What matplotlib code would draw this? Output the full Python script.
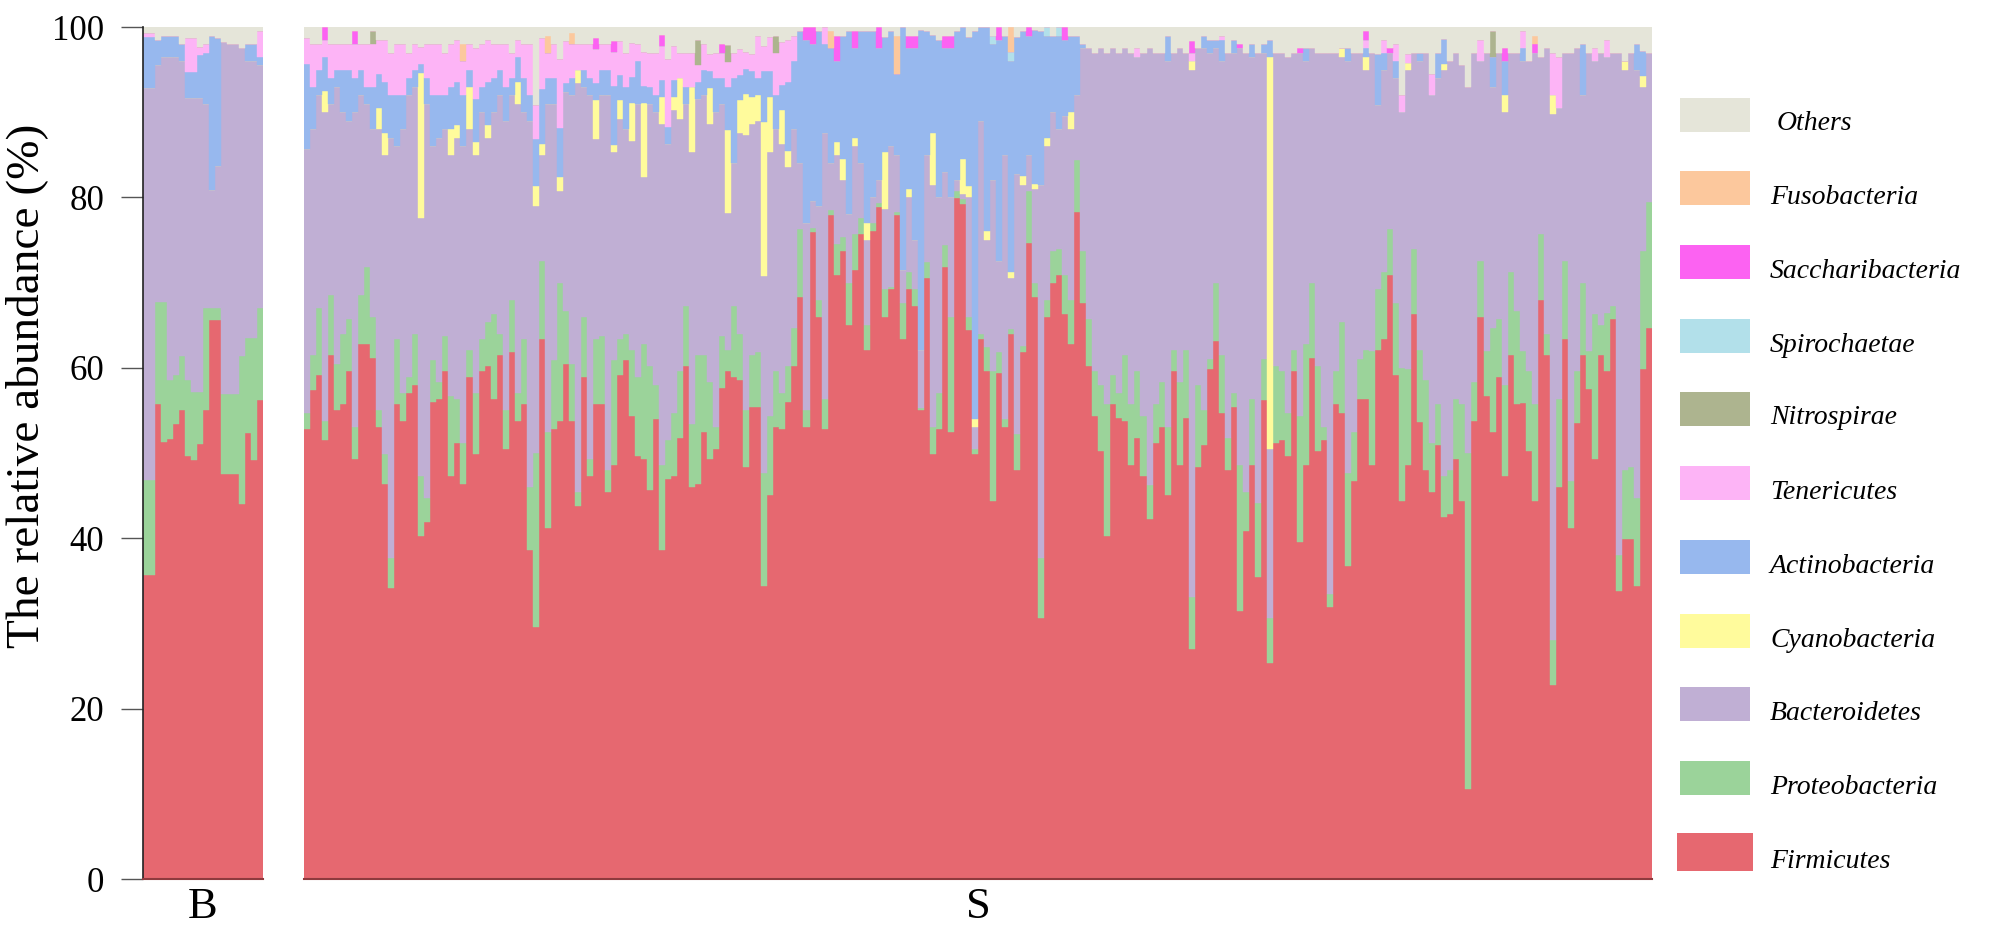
import numpy as np
import matplotlib
matplotlib.use("Agg")
import matplotlib.pyplot as plt
from matplotlib.patches import Rectangle

plt.rcParams['font.family'] = ['Liberation Serif', 'DejaVu Serif']

taxa = ['Firmicutes', 'Proteobacteria', 'Bacteroidetes', 'Cyanobacteria', 'Actinobacteria',
        'Tenericutes', 'Nitrospirae', 'Spirochaetae', 'Saccharibacteria', 'Fusobacteria', 'Others']
colors = ['#E66870', '#9BD39A', '#C0AFD4', '#FFFB9C', '#97B8EE',
          '#FDB4F6', '#ADB48F', '#B2E0EA', '#FC62F2', '#FCC89D', '#E5E5D9']
groups = ['B', 'S']

# ---------------- group B (20 samples) ----------------
B_firmicutes = [35.7, 35.7, 55.8, 51.3, 51.7, 53.4, 55.1, 49.6, 49.2, 51, 55.1, 65.6, 65.6, 47.5, 47.5, 47.5, 44, 52.4, 49.2, 56.2]
B_proteo = [11.1, 11.1, 11.9, 16.4, 6.9, 5.7, 6.3, 9.0, 8.0, 6.2, 11.9, 1.4, 1.4, 9.4, 9.4, 9.4, 17.4, 11.1, 14.3, 10.8]
B_bactero = [46, 46, 27.8, 28.8, 37.9, 37.4, 34.6, 33.1, 34.5, 34.5, 24, 13.9, 16.7, 41.3, 41.1, 41.1, 36.1, 32.5, 32.5, 28.5]
B_actino = [6, 6, 3, 2.5, 2.5, 2.5, 2, 3, 3, 5, 6, 18, 15, 0, 0, 0, 0, 2, 2, 1]
B_teneric = [0.5, 0.5, 0, 0, 0, 0, 0, 4, 4, 1, 1, 0, 0, 0, 0, 0, 0, 0, 0, 3]

# ---------------- group S (224 samples) ----------------
S_firmicutes = [
    52.8, 57.4, 59.2, 51.5, 61.5, 55, 55.7, 59.6, 49.3, 62.8, 62.8, 61.2, 53.1, 46.4, 34.1, 55.7, 53.8, 57, 58, 40.2,
    41.9, 56, 56.3, 59.6, 47.3, 51.2, 46.4, 58.9, 49.9, 59.6, 60.2, 56.3, 61.5, 50.5, 61.8, 53.8, 55.7, 38.6,
    29.6, 63.4, 41.2, 52.8, 53.8, 60.5, 53.8, 43.8, 58.9, 47.3, 55.7, 55.7, 45.4, 48.6, 59.2, 60.9, 54.4, 49.6, 49.3, 45.7,
    54, 38.6, 47, 47.3, 51.8, 60.2, 46, 46.4, 52.5, 49.3, 50.5, 57.6, 59.6, 58.9, 58.6, 48.3, 55.4,
    55.4, 34.4, 45.1, 53, 52.8, 56, 60.2, 68.3, 53.1, 76.3, 66, 53.1, 77.9, 70.9, 73.7, 65, 71.5, 75.7, 62.1, 76,
    78.9, 66, 69.2, 77.9, 63.4, 69.2, 67.3, 55, 70.5, 49.9, 52.8, 71.8, 52.5, 79.9, 79.5, 64.4, 49.9,
    63.4, 59.6, 44.4, 59.6, 53.1, 64.4, 48, 61.8, 74.7, 68.3, 30.6, 66, 69.9, 70.9, 66.7, 62.8, 78.3, 67.6, 60.2, 54.4,
    50.2, 40.2, 55.7, 54.1, 53.8, 48.6, 51.8, 47.3, 42.2, 51.2, 53.1, 45.1, 59.6, 48.6, 54.1, 27, 48.3,
    50.9, 59.9, 63.1, 54.7, 48, 55.4, 31.5, 40.9, 48.6, 35.4, 56.2, 25.4, 51.2, 51.5, 49.6, 59.6, 39.6, 48.6, 61.2, 50.2,
    51.5, 31.9, 55.7, 54.7, 36.7, 46.7, 56.3, 56.3, 48.6, 62.1, 63.4, 70.9, 59.2, 44.4, 48.6, 66.3, 53.6, 48,
    45.4, 50.9, 42.5, 42.8, 49.3, 44.4, 10.6, 53.8, 66, 56.7, 52.5, 58.9, 47.3, 61.5, 55.7, 55.9, 50.2, 44.4, 68, 61.5,
    22.8, 46, 63.4, 41.2, 53.5, 61.5, 57.5, 49.3, 61.5, 59.6, 65.7, 33.8, 39.9, 39.9, 34.4, 59.9, 64.7,
]
S_proteo = [
    1.9, 4.1, 7.8, 2.3, 7.1, 5.5, 8.3, 6.1, 3.8, 5.8, 9.0, 4.8, 1.9, 3.5, 3.6, 7.7, 3.2, 1.9, 6.0, 7.1,
    2.8, 4.9, 2.0, 4.1, 9.4, 5.1, 4.8, 3.2, 7.1, 3.8, 5.2, 10.0, 2.5, 4.5, 6.2, 3.2, 7.7, 7.4,
    20.4, 9.1, 11.3, 8.1, 16.1, 6.2, 6.7, 1.6, 7.1, 2.0, 7.7, 8.0, 2.6, 12.3, 4.2, 3.1, 7.7, 9.3, 13.5, 14.5,
    4.0, 10.0, 4.5, 7.4, 7.8, 7.1, 7.4, 15.1, 9.0, 9.0, 2.6, 6.1, 2.5, 8.4, 5.4, 6.7, 6.1,
    6.4, 13.2, 9.3, 6.6, 4.2, 4.2, 4.5, 8.0, 1.9, 0.5, 2.0, 3.5, 0.6, 3.6, 1.6, 4.9, 4.2, 1.9, 2.9, 1.0,
    0.5, 3.2, 0.3, 0.4, 4.2, 2.0, 1.9, 0.3, 1.9, 3.2, 4.2, 2.6, 13.5, 0.9, 0.5, 1.6, 0.6,
    0.6, 2.8, 15.2, 2.4, 0.9, 0.6, 4.2, 0.7, 6.1, 1.6, 7.1, 2.0, 3.8, 3.1, 4.5, 5.2, 6.1, 6.1, 5.5, 5.2,
    7.8, 15.5, 3.5, 2.9, 7.7, 7.1, 7.8, 7.1, 4.1, 4.5, 5.2, 8.0, 2.5, 9.7, 8.0, 6.1, 9.7,
    4.1, 1.1, 6.8, 6.8, 3.8, 1.6, 17.1, 4.5, 7.7, 8.7, 4.8, 5.2, 9.0, 8.1, 5.1, 2.5, 14.8, 14.2, 8.7, 10.0,
    1.6, 1.6, 3.9, 10.7, 10.9, 5.8, 4.7, 5.8, 13.4, 7.1, 7.8, 5.4, 8.4, 15.6, 11.3, 7.7, 8.5, 10.6,
    5.8, 4.8, 4.8, 5.2, 7.0, 11.3, 39.4, 4.5, 6.5, 5.3, 12.2, 6.8, 10.7, 9.7, 11.0, 6.1, 9.4, 11.3, 7.7, 2.5,
    5.2, 10.3, 9.1, 5.5, 6.1, 8.5, 4.5, 17.0, 3.5, 6.8, 1.6, 4.2, 8.1, 8.4, 10.3, 13.8, 14.8,
]
S_bactero = [
    31.0, 26.5, 25.0, 36.2, 22.4, 32.5, 26.0, 23.3, 36.9, 23.4, 19.2, 22.0, 33.0, 35.1, 49.3, 22.6, 31.0, 33.1, 29.0, 30.3,
    46.3, 25.1, 28.7, 24.3, 28.3, 30.7, 34.8, 25.9, 28.0, 26.6, 21.6, 23.7, 28.0, 34.0, 24.0, 34.0, 26.6, 43.0,
    29, 12.5, 38.5, 30.1, 10.9, 25.7, 31.5, 48.0, 27, 42.7, 23.5, 28.3, 44, 24.4, 25.8, 24, 24.5, 32.1, 19.6, 30.8,
    32, 40, 34.8, 35.5, 29.6, 23.7, 31.9, 30, 30.5, 30.3, 36.9, 27.3, 16.1, 16.7, 23.6, 32.3, 27.1,
    27.2, 23.2, 30.9, 28.4, 29.3, 23.4, 23.3, 7.7, 22, 3.2, 11, 31.4, 5.5, 10.5, 6.7, 8.1, 10.3, 6.4, 10, 3,
    2.6, 9.4, 16.5, 6.7, 3.9, 8.8, 5.8, 6.8, 12.6, 28.4, 23, 8.6, 14, 1.2, 0.6, 14, 2.5,
    25, 12.6, 22.4, 10.8, 31, 6, 30.6, 19, 4.2, 11.1, 43.8, 18, 16.3, 14, 18.8, 20, 7.6, 23.8, 31.8, 37.4,
    39.5, 41.3, 38.3, 40, 36, 41.3, 36.9, 42.6, 51.2, 41.3, 38.7, 42.9, 34.9, 39.2, 34.9, 61.9, 39.5,
    42.5, 36, 27.6, 34.5, 45.2, 40, 48.9, 51.6, 40.2, 52.9, 36, 19.9, 36.8, 37.4, 41.8, 34.9, 42.6, 33.2, 27.6, 36.8,
    43.9, 63.5, 37.4, 31.1, 48.4, 44.5, 36, 32.9, 35, 21.6, 23.8, 20.7, 26.4, 30, 35.1, 23, 33.9, 38.4,
    40.8, 38.3, 47.7, 48, 40.7, 39.8, 43, 38.7, 23.5, 35, 28.3, 31.3, 32, 25.8, 30.3, 34, 36.4, 41.3, 20.8, 33.5,
    61.8, 34.2, 24.5, 50.3, 37.9, 22, 35, 29.7, 32, 30.1, 29.7, 59, 47, 48.7, 50.3, 19.3, 17.5,
]
S_actino = [
    10, 5, 3, 4, 3, 2, 5, 6, 4, 3, 2, 5, 4, 6, 5, 6, 4, 2, 2, 1, 3, 6, 5, 4, 5, 5, 6, 2, 5, 3, 5, 4, 3, 4, 2, 3, 4, 3,
    5.5, 6.4, 3, 3, 5.8, 1, 2, 0, 2, 2, 2, 3, 3, 7, 3, 5, 3, 5, 2, 2, 2, 2, 2, 2, 0, 2, 0, 2, 3, 2, 4, 3, 5, 10, 3, 3, 3,
    2, 6, 3, 4, 3, 8, 8, 15.5, 21.5, 18.5, 20.5, 10.5, 13.5, 9.5, 14.5, 21.5, 10.5, 15.5, 22.5, 19.5, 15.5, 13.5, 13.5,
    9.5, 28.5, 16.5, 22.5, 37.5, 14.5, 11.5, 18.5, 14.5, 17.5, 17.5, 15.5, 17.5, 45.5,
    11, 24, 16, 26, 14, 25, 16, 17, 14, 18, 18, 12, 9, 11, 9, 9, 7, 0.5, 0, 0, 0, 0, 0, 0, 0, 0, 0, 0, 0, 0, 0, 3, 0, 0, 0, 0, 0,
    1.5, 1.5, 1, 2.5, 0, 1.5, 0, 0, 1.5, 0, 1, 2, 0, 0, 0, 0, 0, 1.5, 0, 0, 0, 0, 0, 0, 1.5, 0, 0, 1, 0, 6, 2, 0, 2, 0, 0, 0, 1, 0,
    0, 3, 3, 0, 0, 0, 0, 0, 0, 0, 3.5, 0, 4, 0, 0, 1.5, 0, 0, 0, 0, 0, 0, 0, 0, 0, 6, 0, 0, 0, 0, 0, 0, 0, 0, 3, 3, 0,
]
S_teneric = [
    3, 5, 3, 2, 4, 3, 3, 3, 4, 3, 5, 5, 4, 5, 5, 6, 6, 3, 3, 2, 4, 6, 6, 5, 5, 5, 4, 3, 6, 5, 5, 4, 3, 5, 3, 2, 4, 6,
    4, 6, 3, 4, 8, 5, 4, 3, 3, 4, 4, 3, 3, 4, 4, 4, 4, 2, 4, 4, 5, 4, 8, 4, 3, 4, 4, 2, 3, 2, 3, 3, 3, 3, 3, 2, 2,
    5, 3, 4, 5, 5, 5, 3, 0, 0, 0, 0, 2, 0, 0, 0, 0, 0, 0, 0, 0, 0, 0, 0, 0, 0, 0, 0, 0, 0, 0, 0, 0, 0, 0, 0, 0, 0,
    0, 0, 0, 0, 0, 0, 0, 0, 0, 0, 0, 0, 0, 0, 0, 0, 0, 0, 0, 0, 0, 0, 0, 0, 0, 0, 1, 0, 0, 0, 0, 0, 0, 0, 0, 1, 0,
    0, 0, 0, 0.5, 0, 0, 0, 0, 0, 0, 0, 0, 0, 0, 0, 0, 0, 0, 0, 0, 0, 0, 0, 0, 0, 0, 0, 1, 0, 0, 1.5, 0, 2, 2, 1, 0, 0, 0,
    2.5, 0, 0, 0, 0, 0, 0, 0, 2.5, 0, 0, 0, 0, 0, 0, 2, 0, 0, 0, 0, 5, 6, 0, 0, 0, 0, 0, 1.5, 0, 2, 0, 0, 0, 0, 0, 0, 0,
]
S_cyano = {3: 2.5, 12: 2.5, 13: 2.5, 19: 17, 24: 3, 25: 1.5, 27: 5, 28: 1.5, 30: 1.5, 35: 2.5,
           38: 2.3, 39: 1.3, 42: 1.6, 45: 1.6, 48: 4.5, 51: 0.8, 52: 2.2, 54: 4.5, 56: 8.7, 59: 3.2,
           61: 1.6, 62: 4.8, 64: 7.7, 67: 4.2, 70: 9.7, 72: 3.8, 73: 4.8, 74: 3.2, 75: 3, 76: 18,
           77: 6.5, 79: 3.9, 80: 1.9, 88: 1.5, 89: 2.5, 91: 1, 93: 2, 96: 6.7, 100: 1, 104: 6.1,
           109: 4.2, 110: 1.3, 111: 1, 113: 1, 117: 0.7, 119: 1, 121: 0.6, 123: 1, 127: 2, 147: 1,
           160: 46, 172: 1, 176: 1.5, 183: 0.8, 189: 0.6, 199: 2, 207: 2.2, 219: 1, 222: 1.2}
S_nitro = {11: 1.5, 65: 3, 70: 2, 78: 2, 197: 3}
S_spiro = {114: 1, 117: 1, 123: 1, 125: 1}
S_sacch = {3: 1.5, 8: 1.5, 48: 1.3, 51: 1.3, 59: 1.3, 69: 1, 83: 1.5, 84: 2, 88: 3, 91: 2, 95: 2.5,
           100: 1.5, 101: 1.5, 106: 1.5, 107: 1.5, 115: 1.5, 120: 1, 126: 1.5, 147: 1.3, 155: 0.5,
           165: 0.5, 176: 1, 180: 0.5, 199: 1.5, 204: 1}
S_fuso = {26: 2, 40: 2, 44: 1.3, 87: 2, 98: 4.5, 117: 3, 204: 1}


def sparse_to_array(n, sp):
    a = np.zeros(n)
    for k, v in sp.items():
        a[k] = v
    return a


def table(n, rows):
    m = np.vstack([np.asarray(r, dtype=float) for r in rows])
    tot = m.sum(axis=0)
    m = m * np.where(tot > 100, 100 / tot, 1.0)
    others = 100 - m.sum(axis=0)
    return np.vstack([m, others])


nS = len(S_firmicutes)
for arr in (S_proteo, S_bactero, S_actino, S_teneric):
    assert len(arr) == nS, (len(arr), nS)
nB = len(B_firmicutes)
zB = np.zeros(nB)

B_tab = table(nB, [B_firmicutes, B_proteo, B_bactero, zB, B_actino, B_teneric, zB, zB, zB, zB])
S_tab = table(nS, [S_firmicutes, S_proteo, S_bactero, sparse_to_array(nS, S_cyano), S_actino, S_teneric,
                   sparse_to_array(nS, S_nitro), sparse_to_array(nS, S_spiro),
                   sparse_to_array(nS, S_sacch), sparse_to_array(nS, S_fuso)])

W, H = 2000, 930
fig = plt.figure(figsize=(W / 100, H / 100), dpi=100)
y0, y1 = 879, 27
axB = fig.add_axes([143 / W, 1 - y0 / H, 120 / W, (y0 - y1) / H])
axS = fig.add_axes([304 / W, 1 - y0 / H, 1348 / W, (y0 - y1) / H])


def draw(ax, tab, label):
    n = tab.shape[1]
    x = np.arange(n)
    bottom = np.zeros(n)
    for vals, c in zip(tab, colors):
        ax.bar(x, vals, bottom=bottom, width=1.0, color=c, edgecolor=c, linewidth=0.3, align='center')
        bottom += vals
    ax.set_xlim(-0.5, n - 0.5)
    ax.set_ylim(0, 100)
    ax.set_xticks([(n - 1) / 2])
    ax.set_xticklabels([label], fontsize=32)
    ax.tick_params(axis='x', length=0, pad=6)
    for s in ('top', 'right'):
        ax.spines[s].set_visible(False)
    ax.spines['bottom'].set_color('#8E3A3E')
    ax.spines['bottom'].set_linewidth(1.5)


draw(axB, B_tab, groups[0])
draw(axS, S_tab, groups[1])

axB.set_yticks([0, 20, 40, 60, 80, 100])
axB.tick_params(axis='y', direction='out', length=16, width=1.0, color='#555555', labelsize=25, pad=12)
axB.spines['left'].set_color('#222222')
axB.spines['left'].set_linewidth(1.2)
axS.set_yticks([])
axS.spines['left'].set_visible(False)

fig.text(27 / W, 1 - 386 / H, 'The relative abundance (%)', rotation=90, fontsize=34,
         ha='center', va='center')

# legend (top to bottom)
leg_names = taxa[::-1]
leg_cols = colors[::-1]
centers = [115, 188, 262, 336, 409, 483, 557, 631, 704, 778, 852]
for name, c, yc in zip(leg_names, leg_cols, centers):
    if name == 'Firmicutes':
        x0, w, h = 1677, 76, 38
    else:
        x0, w, h = 1680, 70, 34
    fig.add_artist(Rectangle((x0 / W, 1 - (yc + h / 2) / H), w / W, h / H,
                             transform=fig.transFigure, facecolor=c, edgecolor='none'))
    tx = 1777 if name == 'Others' else 1770
    fig.text(tx / W, 1 - (yc + 9) / H, name, fontsize=20, style='italic',
             va='center', ha='left')

fig.savefig('out.png', dpi=100)
